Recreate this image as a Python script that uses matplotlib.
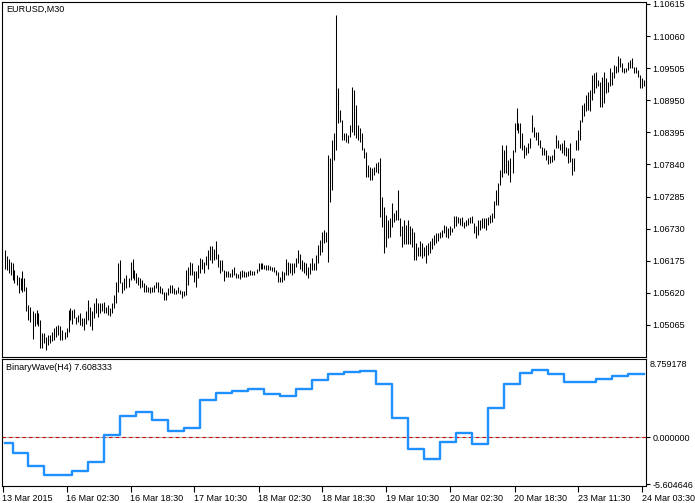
import numpy as np
import matplotlib.pyplot as plt

plt.rcParams['font.family'] = ['Liberation Sans', 'DejaVu Sans']

# M30 bars, high / low per bar (bar 0 = 13 Mar 2015)
highs = [
    1.0636, 1.0625, 1.0620, 1.0615, 1.0613, 1.0602, 1.0593, 1.0590, 1.0587, 1.0600,
    1.0587, 1.0573, 1.0541, 1.0538, 1.0530, 1.0527, 1.0532, 1.0527, 1.0515, 1.0492,
    1.0492, 1.0486, 1.0489, 1.0489, 1.0495, 1.0501, 1.0504, 1.0507, 1.0504, 1.0498,
    1.0495, 1.0501, 1.0532, 1.0535, 1.0532, 1.0534, 1.0521, 1.0524, 1.0527, 1.0518,
    1.0518, 1.0530, 1.0550, 1.0538, 1.0530, 1.0544, 1.0553, 1.0544, 1.0544, 1.0544,
    1.0547, 1.0538, 1.0541, 1.0535, 1.0544, 1.0558, 1.0581, 1.0613, 1.0619, 1.0581,
    1.0587, 1.0593, 1.0587, 1.0616, 1.0620, 1.0602, 1.0596, 1.0590, 1.0587, 1.0584,
    1.0579, 1.0576, 1.0573, 1.0573, 1.0573, 1.0576, 1.0580, 1.0580, 1.0574, 1.0570,
    1.0564, 1.0564, 1.0571, 1.0575, 1.0576, 1.0570, 1.0567, 1.0572, 1.0567, 1.0565,
    1.0565, 1.0602, 1.0607, 1.0615, 1.0613, 1.0599, 1.0599, 1.0610, 1.0622, 1.0620,
    1.0616, 1.0625, 1.0636, 1.0643, 1.0643, 1.0637, 1.0652, 1.0630, 1.0619, 1.0619,
    1.0602, 1.0600, 1.0600, 1.0596, 1.0604, 1.0606, 1.0596, 1.0594, 1.0599, 1.0602,
    1.0600, 1.0598, 1.0599, 1.0602, 1.0600, 1.0600, 1.0604, 1.0613, 1.0614, 1.0613,
    1.0611, 1.0611, 1.0610, 1.0609, 1.0607, 1.0606, 1.0602, 1.0598, 1.0590, 1.0599,
    1.0598, 1.0620, 1.0616, 1.0614, 1.0614, 1.0614, 1.0622, 1.0636, 1.0630, 1.0619,
    1.0616, 1.0613, 1.0607, 1.0613, 1.0623, 1.0614, 1.0627, 1.0645, 1.0653, 1.0667,
    1.0671, 1.0667, 1.0800, 1.0795, 1.0826, 1.0838, 1.1042, 1.0917, 1.0878, 1.0861,
    1.0838, 1.0838, 1.0835, 1.0852, 1.0918, 1.0913, 1.0887, 1.0852, 1.0847, 1.0838,
    1.0812, 1.0806, 1.0783, 1.0780, 1.0778, 1.0780, 1.0786, 1.0788, 1.0795, 1.0728,
    1.0711, 1.0697, 1.0688, 1.0691, 1.0717, 1.0700, 1.0705, 1.0740, 1.0691, 1.0677,
    1.0688, 1.0680, 1.0688, 1.0677, 1.0675, 1.0668, 1.0648, 1.0642, 1.0651, 1.0648,
    1.0642, 1.0645, 1.0648, 1.0651, 1.0657, 1.0662, 1.0665, 1.0665, 1.0668, 1.0671,
    1.0680, 1.0677, 1.0674, 1.0677, 1.0674, 1.0695, 1.0695, 1.0694, 1.0691, 1.0694,
    1.0685, 1.0688, 1.0691, 1.0694, 1.0695, 1.0682, 1.0677, 1.0688, 1.0688, 1.0691,
    1.0691, 1.0692, 1.0694, 1.0697, 1.0700, 1.0720, 1.0740, 1.0752, 1.0775, 1.0818,
    1.0809, 1.0818, 1.0792, 1.0795, 1.0809, 1.0855, 1.0881, 1.0855, 1.0855, 1.0838,
    1.0818, 1.0815, 1.0821, 1.0829, 1.0870, 1.0849, 1.0841, 1.0841, 1.0826, 1.0815,
    1.0812, 1.0809, 1.0800, 1.0798, 1.0800, 1.0810, 1.0835, 1.0826, 1.0819, 1.0821,
    1.0826, 1.0814, 1.0812, 1.0821, 1.0795, 1.0796, 1.0826, 1.0844, 1.0861, 1.0887,
    1.0890, 1.0904, 1.0910, 1.0913, 1.0939, 1.0942, 1.0944, 1.0930, 1.0927, 1.0936,
    1.0944, 1.0933, 1.0927, 1.0950, 1.0944, 1.0956, 1.0954, 1.0972, 1.0968, 1.0959,
    1.0950, 1.0950, 1.0962, 1.0964, 1.0968, 1.0953, 1.0953, 1.0947, 1.0939, 1.0933,
    1.0930,
]
lows = [
    1.0603, 1.0602, 1.0597, 1.0593, 1.0584, 1.0579, 1.0576, 1.0561, 1.0567, 1.0564,
    1.0565, 1.0530, 1.0515, 1.0512, 1.0482, 1.0504, 1.0509, 1.0504, 1.0466, 1.0466,
    1.0475, 1.0463, 1.0472, 1.0475, 1.0478, 1.0481, 1.0486, 1.0489, 1.0481, 1.0481,
    1.0483, 1.0486, 1.0495, 1.0515, 1.0509, 1.0518, 1.0509, 1.0512, 1.0507, 1.0504,
    1.0498, 1.0509, 1.0515, 1.0504, 1.0498, 1.0518, 1.0527, 1.0521, 1.0527, 1.0530,
    1.0527, 1.0527, 1.0524, 1.0522, 1.0527, 1.0535, 1.0544, 1.0564, 1.0579, 1.0561,
    1.0567, 1.0570, 1.0573, 1.0584, 1.0587, 1.0584, 1.0579, 1.0576, 1.0570, 1.0573,
    1.0564, 1.0564, 1.0564, 1.0562, 1.0564, 1.0564, 1.0570, 1.0564, 1.0561, 1.0560,
    1.0550, 1.0550, 1.0558, 1.0561, 1.0561, 1.0560, 1.0560, 1.0562, 1.0560, 1.0553,
    1.0556, 1.0558, 1.0576, 1.0593, 1.0593, 1.0581, 1.0573, 1.0587, 1.0596, 1.0604,
    1.0596, 1.0610, 1.0604, 1.0619, 1.0613, 1.0619, 1.0620, 1.0607, 1.0596, 1.0599,
    1.0583, 1.0589, 1.0589, 1.0589, 1.0590, 1.0593, 1.0587, 1.0587, 1.0586, 1.0589,
    1.0590, 1.0589, 1.0591, 1.0593, 1.0593, 1.0593, 1.0596, 1.0599, 1.0603, 1.0603,
    1.0603, 1.0602, 1.0602, 1.0602, 1.0599, 1.0598, 1.0593, 1.0580, 1.0580, 1.0581,
    1.0584, 1.0593, 1.0593, 1.0596, 1.0593, 1.0596, 1.0607, 1.0613, 1.0604, 1.0599,
    1.0596, 1.0593, 1.0588, 1.0595, 1.0602, 1.0602, 1.0602, 1.0614, 1.0627, 1.0633,
    1.0648, 1.0650, 1.0615, 1.0719, 1.0740, 1.0792, 1.0809, 1.0856, 1.0858, 1.0826,
    1.0826, 1.0823, 1.0821, 1.0831, 1.0840, 1.0835, 1.0830, 1.0826, 1.0823, 1.0809,
    1.0795, 1.0762, 1.0762, 1.0757, 1.0757, 1.0766, 1.0771, 1.0769, 1.0693, 1.0676,
    1.0631, 1.0641, 1.0657, 1.0659, 1.0676, 1.0685, 1.0688, 1.0688, 1.0661, 1.0641,
    1.0647, 1.0647, 1.0647, 1.0647, 1.0641, 1.0618, 1.0618, 1.0625, 1.0625, 1.0622,
    1.0625, 1.0613, 1.0628, 1.0631, 1.0637, 1.0645, 1.0648, 1.0651, 1.0657, 1.0659,
    1.0665, 1.0659, 1.0657, 1.0662, 1.0668, 1.0675, 1.0677, 1.0682, 1.0680, 1.0677,
    1.0674, 1.0677, 1.0680, 1.0682, 1.0682, 1.0665, 1.0657, 1.0662, 1.0671, 1.0674,
    1.0675, 1.0671, 1.0680, 1.0682, 1.0685, 1.0691, 1.0714, 1.0714, 1.0749, 1.0763,
    1.0769, 1.0769, 1.0766, 1.0754, 1.0769, 1.0806, 1.0844, 1.0838, 1.0812, 1.0809,
    1.0795, 1.0800, 1.0803, 1.0812, 1.0841, 1.0832, 1.0826, 1.0818, 1.0812, 1.0800,
    1.0800, 1.0792, 1.0785, 1.0786, 1.0789, 1.0792, 1.0812, 1.0812, 1.0809, 1.0803,
    1.0800, 1.0798, 1.0786, 1.0789, 1.0766, 1.0772, 1.0809, 1.0809, 1.0826, 1.0858,
    1.0867, 1.0876, 1.0879, 1.0876, 1.0896, 1.0907, 1.0916, 1.0919, 1.0884, 1.0884,
    1.0890, 1.0907, 1.0910, 1.0919, 1.0921, 1.0933, 1.0942, 1.0944, 1.0953, 1.0944,
    1.0943, 1.0944, 1.0947, 1.0950, 1.0950, 1.0942, 1.0942, 1.0936, 1.0916, 1.0916,
    1.0919,
]

# BinaryWave(H4): bar index where each H4 step starts, and its value
wave_start = [0, 4, 12, 20, 34, 42, 50, 58, 66, 74, 82, 90, 98, 106, 114, 122,
              130, 138, 146, 154, 162, 170, 178, 186, 194, 202, 210, 218, 226,
              234, 242, 250, 258, 264, 272, 280, 296, 304, 312]
wave_value = [-0.65, -1.84, -3.40, -4.47, -4.03, -2.95, 0.28, 2.55, 2.99, 2.03,
              0.72, 1.11, 4.43, 5.26, 5.54, 5.74, 5.14, 4.98, 5.78, 6.85, 7.54,
              7.81, 7.97, 6.41, 2.31, -1.44, -2.63, -0.53, 0.55, -0.80, 3.54,
              6.41, 7.69, 8.05, 7.54, 6.65, 7.01, 7.37, 7.608333]

price_ticks = [1.10615, 1.10060, 1.09505, 1.08950, 1.08395, 1.07840,
               1.07285, 1.06730, 1.06175, 1.05620, 1.05065]
wave_ticks = [8.759178, 0.0, -5.604646]
time_pos = [-1, 31, 63, 95, 127, 159, 191, 223, 255, 287, 319]
time_labels = ['13 Mar 2015', '16 Mar 02:30', '16 Mar 18:30', '17 Mar 10:30',
               '18 Mar 02:30', '18 Mar 18:30', '19 Mar 10:30', '20 Mar 02:30',
               '20 Mar 18:30', '23 Mar 11:30', '24 Mar 03:30']

n = len(highs)
idx = np.arange(n)
seg_len = np.diff(wave_start + [n])
wave = np.repeat(wave_value, seg_len)

W, H = 695, 503
fig = plt.figure(figsize=(W / 100, H / 100), dpi=100)
ax = fig.add_axes([2 / W, 1 - 356.5 / H, 644 / W, 354.5 / H])
ax2 = fig.add_axes([2 / W, 1 - 486 / H, 644 / W, 127 / H])

fs = 6.5
xlim = (-1.25, 320.75)   # half-pixel shift keeps 1px bars crisp

# price bars
ax.vlines(idx, lows, highs, color='black', lw=0.75)
ax.set_xlim(*xlim)
ax.set_ylim(1.04520, 1.10649)
ax.set_xticks([])
ax.yaxis.tick_right()
ax.set_yticks(price_ticks)
ax.set_yticklabels([f'{v:.5f}' for v in price_ticks])
ax.tick_params(axis='y', direction='out', length=3, width=0.8, pad=1.5,
               labelsize=fs)
ax.text(0.006, 0.993, 'EURUSD,M30', transform=ax.transAxes, fontsize=fs,
        va='top', ha='left')

# indicator
ax2.axhline(0, color='#B0B0B0', lw=0.8)
ax2.axhline(0, color='#D00000', lw=0.8, ls=(0, (3, 3)))
ax2.step(idx, wave, where='post', color='#1E90FF', lw=1.7)
ax2.set_xlim(*xlim)
ax2.set_ylim(-5.825, 9.366)
ax2.yaxis.tick_right()
ax2.set_yticks(wave_ticks[1:])
ax2.set_yticklabels(['0.000000', '-5.604646'])
ax2.tick_params(axis='y', direction='out', length=3, width=0.8, pad=1.5,
                labelsize=fs)
ax2.text(1.005, (wave_ticks[0] + 5.825) / (9.366 + 5.825), '8.759178',
         transform=ax2.transAxes, fontsize=fs, va='center', ha='left')
ax2.set_xticks(time_pos)
ax2.set_xticklabels(time_labels, ha='left')
ax2.tick_params(axis='x', direction='out', length=4, width=0.8, pad=1.5,
                labelsize=fs)
ax2.text(0.006, 0.97, 'BinaryWave(H4) 7.608333', transform=ax2.transAxes,
         fontsize=fs, va='top', ha='left')

for a in (ax, ax2):
    for s in a.spines.values():
        s.set_linewidth(0.8)
        s.set_color('black')

fig.savefig('out.png', dpi=100)
